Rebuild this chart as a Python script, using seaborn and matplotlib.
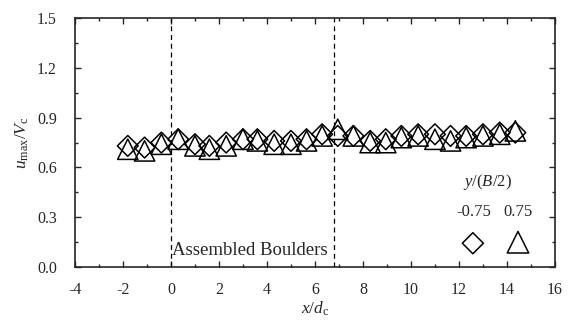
import numpy as np
import pandas as pd
import seaborn as sns
import matplotlib.pyplot as plt
from matplotlib.ticker import MultipleLocator, FormatStrFormatter

sns.set_style('ticks')
plt.rcParams['font.family'] = ['Liberation Serif', 'DejaVu Serif']
plt.rcParams['mathtext.fontset'] = 'custom'
plt.rcParams['mathtext.rm'] = 'Liberation Serif'
plt.rcParams['mathtext.it'] = 'Liberation Serif:italic'
plt.rcParams['axes.unicode_minus'] = False
plt.rcParams['font.size'] = 11

# stations x/dc
x_dc = [-1.8, -1.1, -0.4, 0.3, 1.0, 1.6, 2.3, 3.0, 3.6, 4.3, 5.0, 5.65,
        6.3, 6.95, 7.6, 8.3, 8.95, 9.6, 10.3, 11.0, 11.65, 12.3, 13.0, 13.7, 14.35]
# y/(B/2) = -0.75 (diamonds)
u_neg = [0.73, 0.72, 0.75, 0.77, 0.74, 0.73, 0.75, 0.77, 0.77, 0.76, 0.76, 0.77,
         0.80, 0.79, 0.79, 0.76, 0.77, 0.79, 0.80, 0.80, 0.79, 0.79, 0.80, 0.81, 0.81]
# y/(B/2) = 0.75 (triangles)
u_pos = [0.71, 0.70, 0.74, 0.77, 0.73, 0.71, 0.73, 0.77, 0.76, 0.74, 0.74, 0.76,
         0.79, 0.83, 0.79, 0.75, 0.75, 0.78, 0.79, 0.77, 0.76, 0.78, 0.79, 0.80, 0.82]
boulder_edges = [0.0, 6.8]

df_neg = pd.DataFrame({'x': x_dc, 'u': u_neg})
df_pos = pd.DataFrame({'x': x_dc, 'u': u_pos})

fig = plt.figure(figsize=(5.68, 3.27), dpi=100)
ax = fig.add_axes([0.132, 0.183, 0.845, 0.762])

sns.scatterplot(data=df_neg, x='x', y='u', marker='D', s=112,
                color='black', edgecolor='black', linewidth=1.1, ax=ax)
sns.scatterplot(data=df_pos, x='x', y='u', marker='^', s=215,
                color='black', edgecolor='black', linewidth=1.1, ax=ax)
for coll in ax.collections:
    coll.set_facecolor('none')

for xe in boulder_edges:
    ax.axvline(xe, color='black', lw=0.9, ls=(0, (4, 3)))
ax.text(0.05, 0.1, 'Assembled Boulders', ha='left', va='center', fontsize=13.5)

ax.set_xlim(-4, 16)
ax.set_ylim(0, 1.5)
ax.xaxis.set_major_locator(MultipleLocator(2))
ax.xaxis.set_minor_locator(MultipleLocator(1))
ax.yaxis.set_major_locator(MultipleLocator(0.3))
ax.yaxis.set_minor_locator(MultipleLocator(0.15))
ax.yaxis.set_major_formatter(FormatStrFormatter('%.1f'))
ax.tick_params(which='both', direction='in', top=True, right=True,
               labelsize=11.5, width=1)
ax.tick_params(which='major', length=4)
ax.tick_params(which='minor', length=2.5)
ax.tick_params(axis='x', which='major', pad=11)
ax.tick_params(axis='y', which='major', pad=13)
for sp in ax.spines.values():
    sp.set_linewidth(1.2)

ax.set_xlabel(r'$x/d_{\mathrm{c}}$', fontsize=12.5, labelpad=1)
ax.set_ylabel(r'$u_{\mathrm{max}}/V_{\mathrm{c}}$', fontsize=12.5, labelpad=4)

# legend drawn by hand: labels above markers
tr = ax.transAxes
ax.text(0.86, 0.34, r'$y/(B/2)$', transform=tr, ha='center', va='center', fontsize=12)
ax.text(0.83, 0.22, '-0.75', transform=tr, ha='center', va='center', fontsize=12)
ax.text(0.923, 0.22, '0.75', transform=tr, ha='center', va='center', fontsize=12)
ax.scatter([0.829], [0.096], transform=tr, marker='D', s=115,
           facecolor='none', edgecolor='black', linewidth=1.1, clip_on=False)
ax.scatter([0.923], [0.10], transform=tr, marker='^', s=240,
           facecolor='none', edgecolor='black', linewidth=1.1, clip_on=False)

fig.savefig('out.png', dpi=100)
